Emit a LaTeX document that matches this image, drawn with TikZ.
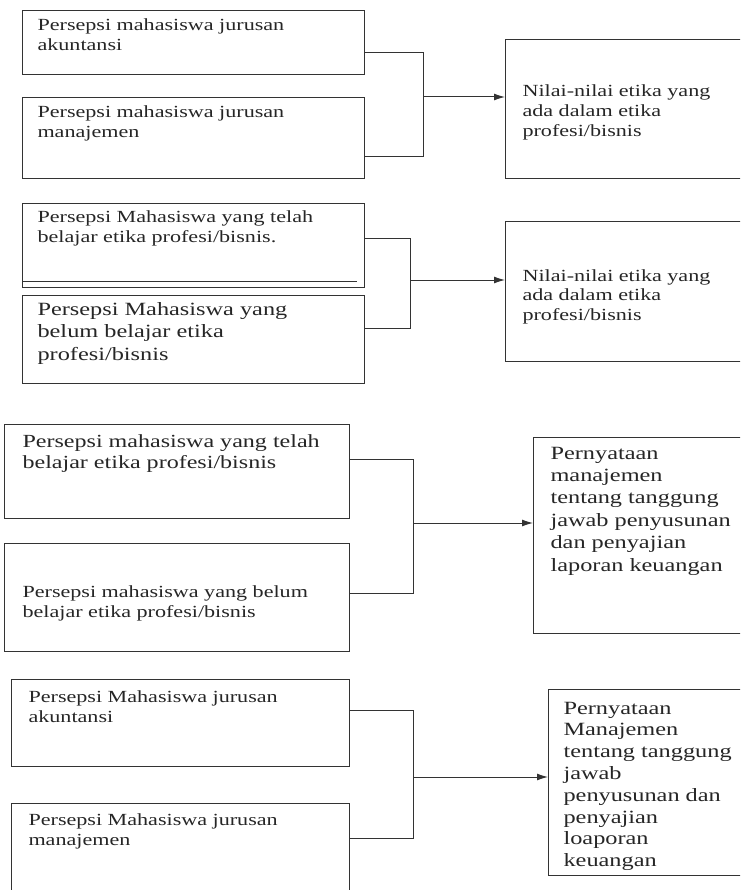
\documentclass[tikz,border=0pt]{standalone}
\usepackage{fontspec}
\usetikzlibrary{arrows.meta}
\newfontfamily\wordfont[FakeStretch=1.3]{Liberation Serif}

\begin{document}
\begin{tikzpicture}[x = 1pt, y = -1pt, line width = 1.1pt,
                      box/.style = {draw = black!80, anchor = north west, inner sep = 0pt},
                      lbl/.style 2 args = {anchor = base west, align = left, inner sep = 0pt,
                                           text = black!85, font = \wordfont\fontsize{#1}{#2}\selectfont},
                      wire/.style = {draw = black!80, line width = 1pt},
                      tip/.style = {wire, -{Latex[length = 11pt, width = 7pt]}}]
    \clip (0, 0) rectangle (740, 890);
    \fill [white] (0, 0) rectangle (740, 890);

    \node [box, minimum width = 342, minimum height = 64] (a1) at (22, 10){};
    \node [box, minimum width = 342, minimum height = 81] (a2) at (22, 97){};
    \node [box, minimum width = 260, minimum height = 139] (b1) at (505, 39){};
    \node [lbl = {17}{19.5}] (ta1) at (37, 50.5){Persepsi mahasiswa jurusan\\akuntansi};
    \node [lbl = {17}{20}] (ta2) at (37, 138){Persepsi mahasiswa jurusan\\manajemen};
    \node [lbl = {17}{20}] (tb1) at (522, 137){Nilai-nilai etika yang\\ada dalam etika\\profesi/bisnis};
    \coordinate (j1) at (423, 97);
    \draw [wire] ([yshift = -10pt]a1.east) -| (j1);
    \draw [wire] ([yshift = -18.5pt]a2.east) -| (j1);
    \draw [tip] (j1) -- (j1 -| b1.west);

    \node [box, minimum width = 342, minimum height = 84] (c1) at (22, 203){};
    \node [box, minimum width = 342, minimum height = 88] (c2) at (22, 295){};
    \node [box, minimum width = 260, minimum height = 140] (b2) at (505, 221){};
    \draw [wire] ([yshift = 7pt]c1.south west) -- ++(335, 0);
    \node [lbl = {17}{20}] (tc1) at (37, 243){Persepsi Mahasiswa yang telah\\belajar etika profesi/bisnis.};
    \node [lbl = {18.7}{22.5}] (tc2) at (37, 360){Persepsi Mahasiswa yang\\belum belajar etika\\profesi/bisnis};
    \node [lbl = {17}{19.5}] (tb2) at (522, 320){Nilai-nilai etika yang\\ada dalam etika\\profesi/bisnis};
    \coordinate (j2) at (410, 280);
    \draw [wire] ([yshift = 7pt]c1.east) -| (j2);
    \draw [wire] ([yshift = 11pt]c2.east) -| (j2);
    \draw [tip] (j2) -- (j2 -| b2.west);

    \node [box, minimum width = 345, minimum height = 94] (d1) at (4, 424){};
    \node [box, minimum width = 345, minimum height = 108] (d2) at (4, 543){};
    \node [box, minimum width = 240, minimum height = 196] (b3) at (533, 437){};
    \node [lbl = {18.5}{21}] (td1) at (22, 468){Persepsi mahasiswa yang telah\\belajar etika profesi/bisnis};
    \node [lbl = {17}{20}] (td2) at (22, 617){Persepsi mahasiswa yang belum\\belajar etika profesi/bisnis};
    \node [lbl = {18.7}{22.4}] (tb3) at (550, 571){Pernyataan\\manajemen\\tentang tanggung\\jawab penyusunan\\dan penyajian\\laporan keuangan};
    \coordinate (j3) at (413, 523);
    \draw [wire] ([yshift = 12pt]d1.east) -| (j3);
    \draw [wire] ([yshift = 4pt]d2.east) -| (j3);
    \draw [tip] (j3) -- (j3 -| b3.west);

    \node [box, minimum width = 338, minimum height = 87] (e1) at (11, 679){};
    \node [box, minimum width = 338, minimum height = 120] (e2) at (11, 803){};
    \node [box, minimum width = 230, minimum height = 186] (b4) at (548, 689){};
    \node [lbl = {17}{20}] (te1) at (28, 722){Persepsi Mahasiswa jurusan\\akuntansi};
    \node [lbl = {17}{20}] (te2) at (28, 845){Persepsi Mahasiswa jurusan\\manajemen};
    \node [lbl = {18.7}{21.8}] (tb4) at (563, 866.6){Pernyataan\\Manajemen\\tentang tanggung\\jawab\\penyusunan dan\\penyajian\\loaporan\\keuangan};
    \coordinate (j4) at (413, 777);
    \draw [wire] ([yshift = 12.5pt]e1.east) -| (j4);
    \draw [wire] ([yshift = 25pt]e2.east) -| (j4);
    \draw [tip] (j4) -- (j4 -| b4.west);
\end{tikzpicture}
\end{document}
